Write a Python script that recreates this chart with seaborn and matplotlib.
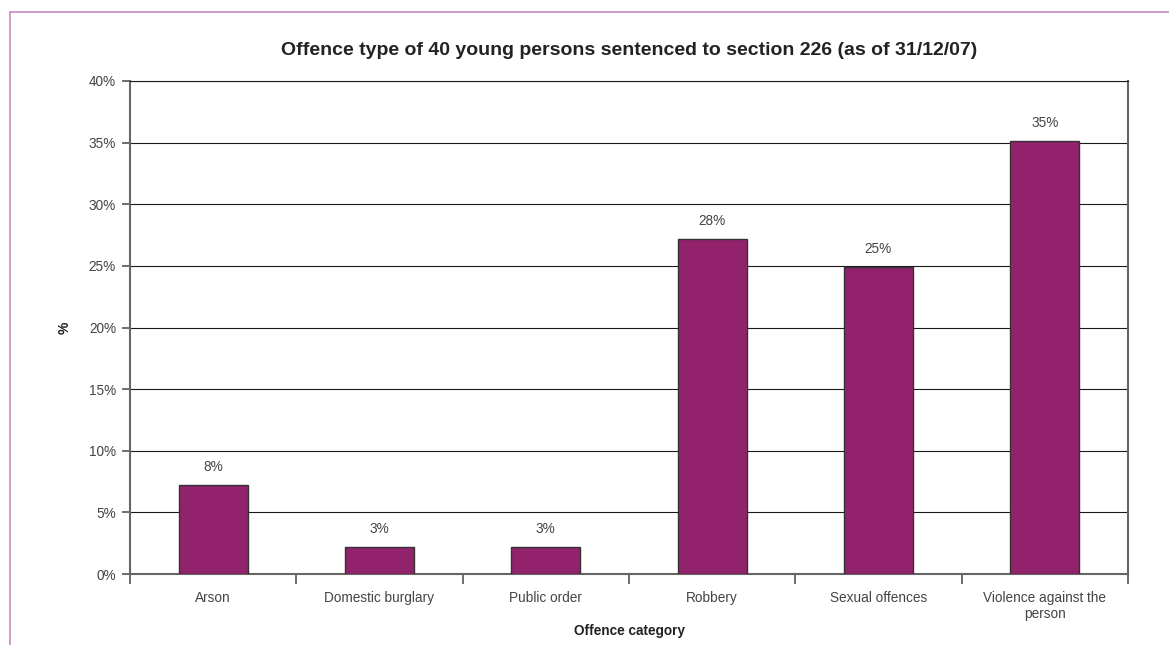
import numpy as np
import pandas as pd
import matplotlib
matplotlib.use('Agg')
import matplotlib.pyplot as plt
import seaborn as sns
from matplotlib.lines import Line2D
from matplotlib.ticker import FuncFormatter, MultipleLocator

categories = ['Arson', 'Domestic burglary', 'Public order', 'Robbery',
              'Sexual offences', 'Violence against the\nperson']
share = [7.2, 2.2, 2.2, 27.2, 24.9, 35.1]
bar_labels = ['8%', '3%', '3%', '28%', '25%', '35%']

df = pd.DataFrame({'category': categories, 'share': share})

sns.set_theme(style='white')
plt.rcParams['font.family'] = ['Liberation Sans', 'DejaVu Sans']

text_col = '#444444'
bar_col = '#93226C'

fig = plt.figure(figsize=(11.69, 6.45), dpi=100)
ax = fig.add_axes([130 / 1169, 1 - 574 / 645, (1128 - 130) / 1169, (574 - 81) / 645])

sns.barplot(data=df, x='category', y='share', color=bar_col, width=0.415,
            edgecolor='#333333', linewidth=1.0, saturation=1, ax=ax, zorder=3)

ax.set_ylim(0, 40)
ax.set_xlim(-0.5, len(categories) - 0.5)
ax.yaxis.set_major_locator(MultipleLocator(5))
ax.yaxis.set_major_formatter(FuncFormatter(lambda v, p: f'{v:.0f}%'))
ax.grid(axis='y', color='#1a1a1a', linewidth=0.8, zorder=0)
ax.set_axisbelow(True)

# category boundaries as tick marks, labels at centres
ax.set_xticks(np.arange(len(categories)))
ax.set_xticklabels(categories, color=text_col, fontsize=9.8, linespacing=1.25)
ax.set_xticks(np.arange(len(categories) + 1) - 0.5, minor=True)
ax.tick_params(axis='x', which='major', length=0, pad=12)
ax.tick_params(axis='x', which='minor', direction='out', length=7, width=1.2,
               color='#555555', bottom=True)
ax.tick_params(axis='y', direction='out', length=6, width=1.2, color='#555555',
               labelsize=9.8, labelcolor=text_col, left=True, pad=4)

for s in ['left', 'right', 'bottom']:
    ax.spines[s].set_color('#666666')
    ax.spines[s].set_linewidth(1.5)
ax.spines['top'].set_color('#1a1a1a')
ax.spines['top'].set_linewidth(0.8)

for i, lab in enumerate(bar_labels):
    ax.annotate(lab, (i, share[i]), xytext=(0, 8), textcoords='offset points',
                ha='center', va='bottom', fontsize=9.8, color=text_col)

ax.set_xlabel('Offence category', fontsize=9.8, fontweight='bold', color='#222222')
ax.xaxis.set_label_coords(0.5, -0.102)
ax.set_ylabel('%', fontsize=10, fontweight='bold', color='#222222', labelpad=12)
ax.set_title('Offence type of 40 young persons sentenced to section 226 (as of 31/12/07)',
             fontsize=14, fontweight='bold', color='#222222', pad=19)

# outer frame lines
fig.add_artist(Line2D([9.5 / 1169, 1], [1 - 12 / 645, 1 - 12 / 645],
                      transform=fig.transFigure, color='#C58ABD', linewidth=1.2))
fig.add_artist(Line2D([9.5 / 1169, 9.5 / 1169], [0, 1 - 12 / 645],
                      transform=fig.transFigure, color='#C58ABD', linewidth=1.2))

plt.savefig('out.png', dpi=100)
